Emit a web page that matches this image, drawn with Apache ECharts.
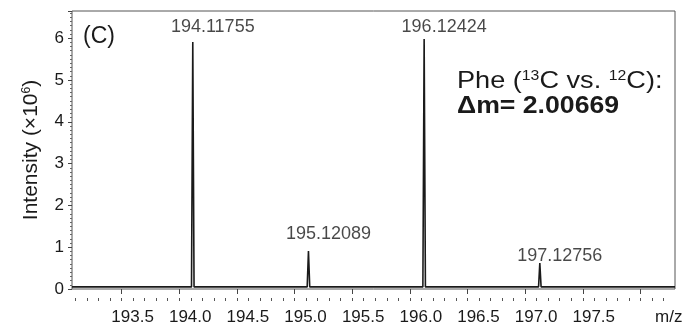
<!DOCTYPE html>
<html>
<head>
<meta charset="utf-8">
<script src="https://cdn.jsdelivr.net/npm/echarts@6/dist/echarts.min.js"></script>
<style>html,body{margin:0;padding:0;background:#fff}#c{width:694px;height:328px}</style>
</head>
<body>
<div id="c"></div>
<script>
// ---- data ----
const peakMz = [194.11755, 195.12089, 196.12424, 196.68, 197.12756];
const peakIntensity = [5.91, 0.91, 5.98, 0.09, 0.62];   // ×10^6
const peakLabelled = [true, true, true, false, true];
const baselineIntensity = 0.05;
const xRange = [193.07, 198.30];
const yTickLabels = [0, 1, 2, 3, 4, 5, 6];
const xTickLabels = [193.5, 194.0, 194.5, 195.0, 195.5, 196.0, 196.5, 197.0, 197.5];
const xMajorTicks = [193.5, 194.0, 194.5, 195.0, 195.5, 196.0, 196.5, 197.0, 197.5, 198.0];
const xMinorTicks = [193.1,193.2,193.3,193.4,193.5,193.6,193.7,193.8,193.9,194.0,194.1,194.2,194.3,194.4,194.5,194.6,194.7,194.8,194.9,195.0,195.1,195.2,195.3,195.4,195.5,195.6,195.7,195.8,195.9,196.0,196.1,196.2,196.3,196.4,196.5,196.6,196.7,196.8,196.9,197.0,197.1,197.2,197.3,197.4,197.5,197.6,197.7,197.8,197.9,198.0,198.1,198.2];
// style: label lift above each peak top (px)
const labelLift = [6, 8, 3, 0, -2];

const FONT = 'Liberation Sans, Arial, sans-serif';
const INK = '#1a1a1a';
const halfWidth = 0.011; // drawn peak half-width at base (style)

// spectrum polyline built from the peak table
const spectrum = [[xRange[0], baselineIntensity]];
peakMz.forEach((m, i) => {
  spectrum.push([m - halfWidth, baselineIntensity]);
  spectrum.push([m, peakIntensity[i]]);
  spectrum.push([m + halfWidth, baselineIntensity]);
});
spectrum.push([xRange[1], baselineIntensity]);

const labelPoints = [];
peakMz.forEach((m, i) => {
  if (!peakLabelled[i]) return;
  labelPoints.push({
    value: [m, peakIntensity[i]],
    label: { distance: labelLift[i] }
  });
});

const chart = echarts.init(document.getElementById('c'), null, {renderer: 'canvas'});
chart.setOption({
  animation: false,
  backgroundColor: '#fff',
  grid: {
    left: 72, top: 11, right: 19, bottom: 39,
    show: true, borderColor: '#555', borderWidth: 1, backgroundColor: 'transparent'
  },
  xAxis: [{
    type: 'value', position: 'bottom', min: xRange[0], max: xRange[1], offset: 9,
    axisLine: {show: false},
    splitLine: {show: false},
    axisTick: {show: true, length: 5, customValues: xMajorTicks, lineStyle: {color: '#444', width: 1}},
    axisLabel: {
      show: true, customValues: xTickLabels, margin: 11,
      fontFamily: FONT, fontSize: 17, color: INK,
      padding: [0, 0, 0, 22],
      formatter: v => Number(v).toFixed(1)
    }
  }, {
    type: 'value', position: 'bottom', min: xRange[0], max: xRange[1], offset: 9,
    axisLine: {show: false},
    splitLine: {show: false},
    axisTick: {show: true, length: 3, customValues: xMinorTicks, lineStyle: {color: '#555', width: 1}},
    axisLabel: {show: false}
  }],
  yAxis: {
    type: 'value', min: 0, max: 6.65, interval: 1,
    axisLine: {show: false},
    splitLine: {show: false},
    axisTick: {show: true, length: 4, lineStyle: {color: '#444'}},
    minorTick: {show: true, splitNumber: 10, length: 2, lineStyle: {color: '#666'}},
    axisLabel: {
      margin: 8, fontFamily: FONT, fontSize: 17, color: INK,
      customValues: yTickLabels,
      formatter: v => String(Math.round(v))
    },
    name: 'Intensity (×10{s|6})',
    nameLocation: 'middle', nameRotate: 90, nameGap: 30,
    nameTextStyle: {
      fontFamily: FONT, fontSize: 21, color: INK,
      rich: {s: {fontFamily: FONT, fontSize: 12, color: INK, padding: [0, 0, 9, 0]}}
    }
  },
  series: [{
    type: 'line', xAxisIndex: 0, data: spectrum,
    showSymbol: false, symbol: 'none',
    lineStyle: {color: '#1a1a1a', width: 1.6},
    silent: true
  }, {
    type: 'scatter', xAxisIndex: 0, data: labelPoints,
    symbolSize: 0, silent: true,
    label: {
      show: true, position: 'top', offset: [20, 0],
      fontFamily: FONT, fontSize: 18, color: INK,
      formatter: p => p.value[0].toFixed(5)
    }
  }],
  graphic: [
    {type: 'text', left: 83, top: 25, style: {text: '(C)', font: '23px ' + FONT, fill: INK}},
    {type: 'text', left: 457, top: 69, scaleX: 1.13, originX: 0, style: {
      text: 'Phe ({s|13}C vs. {s|12}C):',
      font: '24px ' + FONT, fill: INK,
      rich: {s: {fontFamily: FONT, fontSize: 14, fill: INK, padding: [0, 0, 10, 0]}}
    }},
    {type: 'text', left: 457, top: 94, scaleX: 1.11, originX: 0, style: {text: 'Δm= 2.00669', font: 'bold 24px ' + FONT, fill: INK}},
    {type: 'text', left: 655, top: 309, style: {text: 'm/z', font: '17px ' + FONT, fill: INK}}
  ]
});
</script>
</body>
</html>
